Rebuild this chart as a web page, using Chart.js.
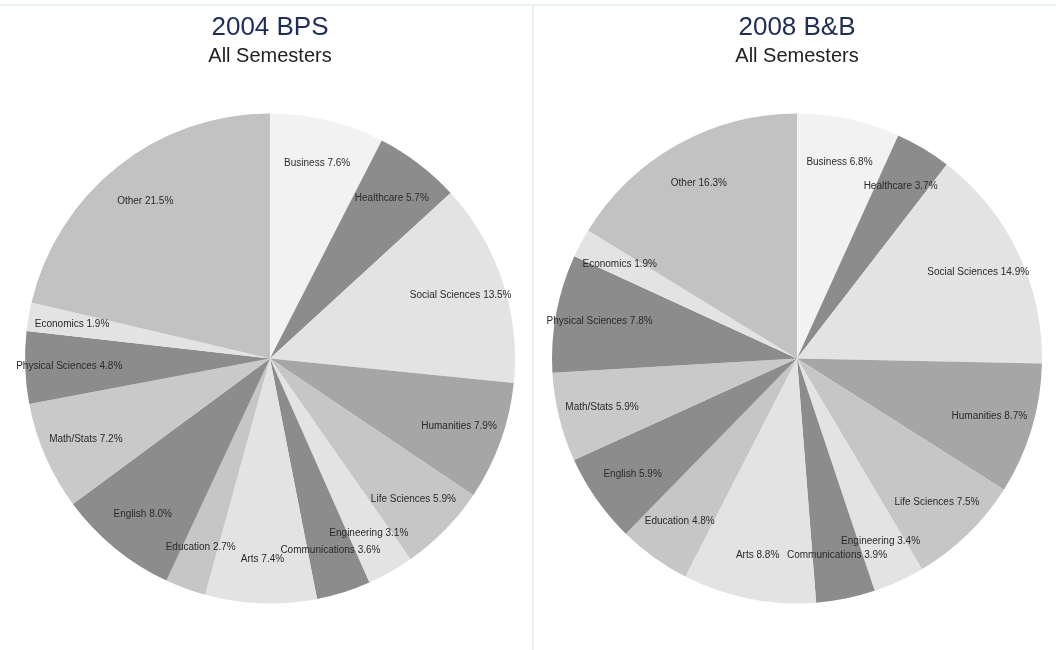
<!DOCTYPE html>
<html>
<head>
<meta charset="utf-8">
<script src="https://cdn.jsdelivr.net/npm/chart.js@4.4.1/dist/chart.umd.min.js"></script>
<style>
  html, body { margin: 0; padding: 0; background: #ffffff; }
  body { width: 1056px; height: 650px; position: relative; overflow: hidden; }
  #topline { position: absolute; left: 0; top: 4px; width: 1056px; height: 2px; background: #eaf1f4; }
  #divider { position: absolute; left: 532px; top: 5px; width: 2px; height: 645px; background: #eaf1f4; }
  #wrapL { position: absolute; left: 0; top: 0; width: 532px; height: 650px; }
  #wrapR { position: absolute; left: 535px; top: 0; width: 521px; height: 650px; }
</style>
</head>
<body>
<div id="topline"></div>
<div id="divider"></div>
<div id="wrapL"><canvas id="left"></canvas></div>
<div id="wrapR"><canvas id="right"></canvas></div>
<script>
const categories = ["Business", "Healthcare", "Social Sciences", "Humanities", "Life Sciences",
  "Engineering", "Communications", "Arts", "Education", "English", "Math/Stats",
  "Physical Sciences", "Economics", "Other"];
const values2004 = [7.6, 5.7, 13.5, 7.9, 5.9, 3.1, 3.6, 7.4, 2.7, 8.0, 7.2, 4.8, 1.9, 21.5];
const values2008 = [6.8, 3.7, 14.9, 8.7, 7.5, 3.4, 3.9, 8.8, 4.8, 5.9, 5.9, 7.8, 1.9, 16.3];
const sliceColors = ["#f2f2f2", "#8c8c8c", "#e3e3e3", "#a6a6a6", "#c6c6c6",
  "#e3e3e3", "#8c8c8c", "#e3e3e3", "#c6c6c6", "#8c8c8c", "#c9c9c9",
  "#8c8c8c", "#e3e3e3", "#c2c2c2"];
const titleLeft = "2004 BPS";
const titleRight = "2008 B&B";
const subtitleText = "All Semesters";

const FONT = '"Liberation Sans", Arial, Helvetica, sans-serif';

const sliceLabels = {
  id: 'sliceLabels',
  afterDatasetsDraw(chart) {
    const ctx = chart.ctx;
    const meta = chart.getDatasetMeta(0);
    const labels = chart.data.labels;
    const data = chart.data.datasets[0].data;
    ctx.save();
    ctx.font = '10px ' + FONT;
    ctx.fillStyle = '#2a2a2a';
    ctx.textAlign = 'center';
    ctx.textBaseline = 'middle';
    meta.data.forEach((arc, i) => {
      const p = arc.getProps(['x', 'y', 'startAngle', 'endAngle', 'outerRadius'], true);
      const mid = (p.startAngle + p.endAngle) / 2;
      const r = p.outerRadius * 0.82;
      ctx.fillText(labels[i] + ' ' + data[i].toFixed(1) + '%',
        p.x + Math.cos(mid) * r, p.y + Math.sin(mid) * r);
    });
    ctx.restore();
  }
};

function makePie(id, title, values, pad) {
  new Chart(document.getElementById(id), {
    type: 'pie',
    data: {
      labels: categories,
      datasets: [{
        data: values,
        backgroundColor: sliceColors,
        borderWidth: 0,
        hoverOffset: 0
      }]
    },
    options: {
      responsive: true,
      maintainAspectRatio: false,
      animation: false,
      layout: { padding: pad },
      plugins: {
        legend: { display: false },
        tooltip: { enabled: false },
        title: {
          display: true,
          text: title,
          color: '#1f2d5a',
          font: { family: FONT, size: 26, weight: 'normal' },
          padding: { top: 12.4, bottom: 0 }
        },
        subtitle: {
          display: true,
          text: subtitleText,
          color: '#222222',
          font: { family: FONT, size: 20, weight: 'normal' },
          padding: { top: 0.9, bottom: 45 }
        }
      }
    },
    plugins: [sliceLabels]
  });
}

makePie('left', titleLeft, values2004, { left: 25, right: 17, top: 0, bottom: 46.5 });
makePie('right', titleRight, values2008, { left: 17, right: 14, top: 0, bottom: 46.5 });
</script>
</body>
</html>
